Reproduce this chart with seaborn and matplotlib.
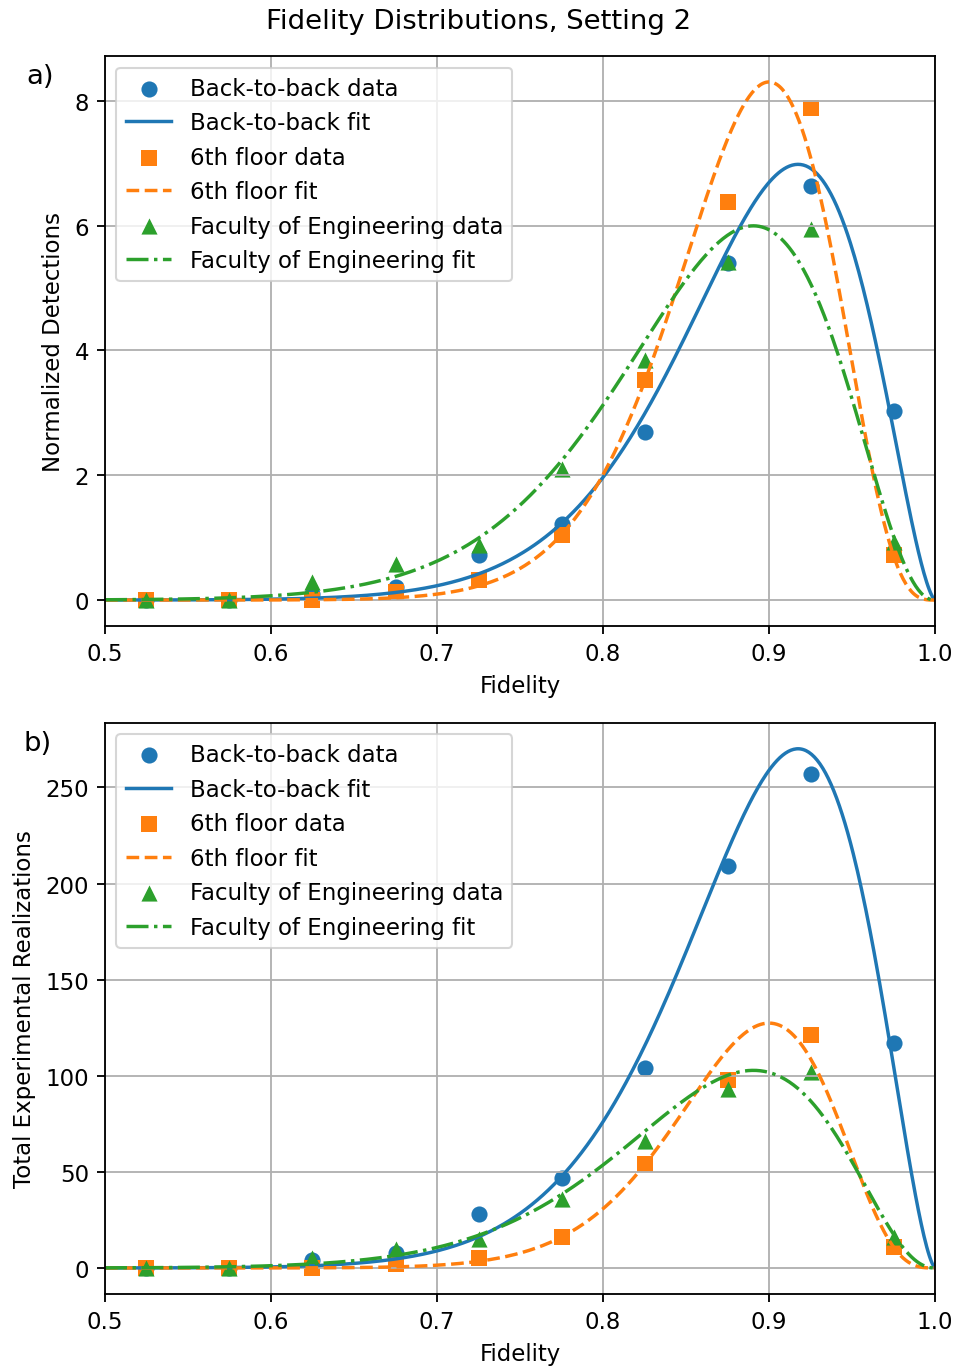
import numpy as np
import pandas as pd
import matplotlib
matplotlib.use("Agg")
import matplotlib.pyplot as plt
import seaborn as sns

# Fidelity bin centres (bin width 0.05)
bin_centers = [0.525, 0.575, 0.625, 0.675, 0.725, 0.775, 0.825, 0.875, 0.925, 0.975]
bin_width = 0.05

# Experimental realizations per bin
counts_b2b = [0, 0, 4, 8, 28, 47, 104, 209, 257, 117]
counts_6th = [0, 0, 0, 2, 5, 16, 54, 98, 121, 11]
counts_foe = [0, 0, 5, 10, 15, 36, 66, 93, 102, 16]

# Fit parameters of the density model (peak fidelity, peak density, shape, width)
fit_peak_fid = [0.9175, 0.900, 0.8906]
fit_peak_den = [6.98, 8.30, 5.995]
fit_shape = [2.5, 5.82, 4.24]
fit_width = [0.25, 0.2028, 0.279]

names = ["Back-to-back", "6th floor", "Faculty of Engineering"]
colors = ["#1f77b4", "#ff7f0e", "#2ca02c"]
markers = ["o", "s", "^"]
linestyles = ["-", "--", "-."]

sc = 1.1
plt.rcParams.update({
    "font.size": 10 * sc,
    "lines.linewidth": 1.5 * sc,
    "axes.linewidth": 0.8 * sc,
    "grid.linewidth": 0.8 * sc,
    "xtick.major.size": 3.5 * sc,
    "ytick.major.size": 3.5 * sc,
    "xtick.major.width": 0.8 * sc,
    "ytick.major.width": 0.8 * sc,
    "xtick.major.pad": 3.5 * sc,
    "ytick.major.pad": 3.5 * sc,
    "axes.labelpad": 4.0 * sc,
})


def angle(f):
    return 2.0 * np.arcsin(np.sqrt(np.clip(1.0 - f, 0.0, 1.0)))


def fit_density(f, f_peak, height, k, s):
    th = angle(f)
    th_m = angle(f_peak)
    rho = th / th_m
    with np.errstate(divide="ignore", invalid="ignore"):
        val = height * np.where(rho > 0, rho ** k * np.exp(k * (1.0 - rho)), 0.0) \
            * np.exp(-(th - th_m) ** 2 / (2.0 * s ** 2))
    return val


fig = plt.figure(figsize=(958 / 150, 1368 / 150), dpi=150)
ax_top = fig.add_axes([0.1096, 0.5417, 0.8664, 0.4166])
ax_bot = fig.add_axes([0.1096, 0.0534, 0.8664, 0.4175])

f_grid = np.linspace(0.5, 1.0, 600)
all_counts = [counts_b2b, counts_6th, counts_foe]

for ax, normalized in ((ax_top, True), (ax_bot, False)):
    for i, name in enumerate(names):
        c = np.array(all_counts[i], dtype=float)
        scale = c.sum() * bin_width
        y_data = c / scale if normalized else c
        dens = fit_density(f_grid, fit_peak_fid[i], fit_peak_den[i], fit_shape[i], fit_width[i])
        y_fit = dens if normalized else dens * scale
        sns.scatterplot(x=bin_centers, y=y_data, color=colors[i], marker=markers[i],
                        s=60, linewidth=0, label=f"{name} data", ax=ax)
        sns.lineplot(x=f_grid, y=y_fit, color=colors[i], linestyle=linestyles[i],
                     linewidth=1.5 * sc, estimator=None, label=f"{name} fit", ax=ax)
    ax.set_xlim(0.5, 1.0)
    ax.grid(True, color="#b0b0b0", linewidth=0.8 * sc)
    ax.set_xlabel("Fidelity")
    ax.legend(loc="upper left", fontsize=10 * sc)

ax_top.set_ylabel("Normalized Detections")
ax_bot.set_ylabel("Total Experimental Realizations")
ax_top.set_yticks([0, 2, 4, 6, 8])
ax_bot.set_yticks([0, 50, 100, 150, 200, 250])

fig.text(26 / 958, 1 - 77 / 1368, "a)", fontsize=12 * sc, ha="left", va="center")
fig.text(23 / 958, 1 - 744 / 1368, "b)", fontsize=12 * sc, ha="left", va="center")
fig.suptitle("Fidelity Distributions, Setting 2", fontsize=12 * sc, y=1 - 22 / 1368, va="center")

fig.savefig("out.png", dpi=150)
